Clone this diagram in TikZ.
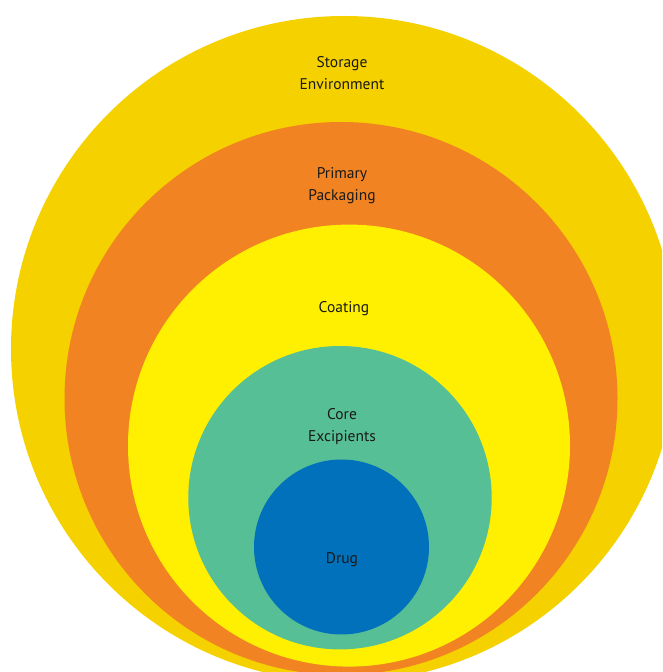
\documentclass[tikz,border=0pt]{standalone}
\usepackage{fontspec}
\setmainfont{PT Sans}
\definecolor{storagecol}{HTML}{F5D100}
\definecolor{packcol}{HTML}{F28322}
\definecolor{coatcol}{HTML}{FEF000}
\definecolor{corecol}{HTML}{57BF96}
\definecolor{drugcol}{HTML}{0071BA}
\definecolor{txtcol}{HTML}{1A1A1A}
\tikzset{
  lbl/.style={text=txtcol, font=\fontsize{15.5}{22}\selectfont, align=center, inner sep=0pt}
}
\begin{document}
\begin{tikzpicture}[x=1pt,y=1pt]
\useasboundingbox (0,0) rectangle (662,672);
\clip (0,0) rectangle (662,672);
\fill[white] (0,0) rectangle (662,672);
% circles (image y measured from top: y_tikz = 672 - y_img)
\fill[storagecol] (344,{672-349}) circle[radius=333];
\fill[packcol] (341,{672-398.5}) circle[radius=276.5];
\fill[coatcol] (349,{672-445.6}) circle[radius=221];
\fill[corecol] (340,{672-497.7}) circle[radius=151.7];
\fill[drugcol] (341.5,{672-547}) circle[radius=87.5];
% labels
\node[lbl] (storage) at (342,{672-73}) {Storage\\Environment};
\node[lbl] (packaging) at (342,{672-186}) {Primary\\Packaging};
\node[lbl] (coating) at (344,{672-309}) {Coating};
\node[lbl] (core) at (342,{672-427}) {Core\\Excipients};
\node[lbl] (drug) at (342,{672-560}) {Drug};
\end{tikzpicture}
\end{document}
